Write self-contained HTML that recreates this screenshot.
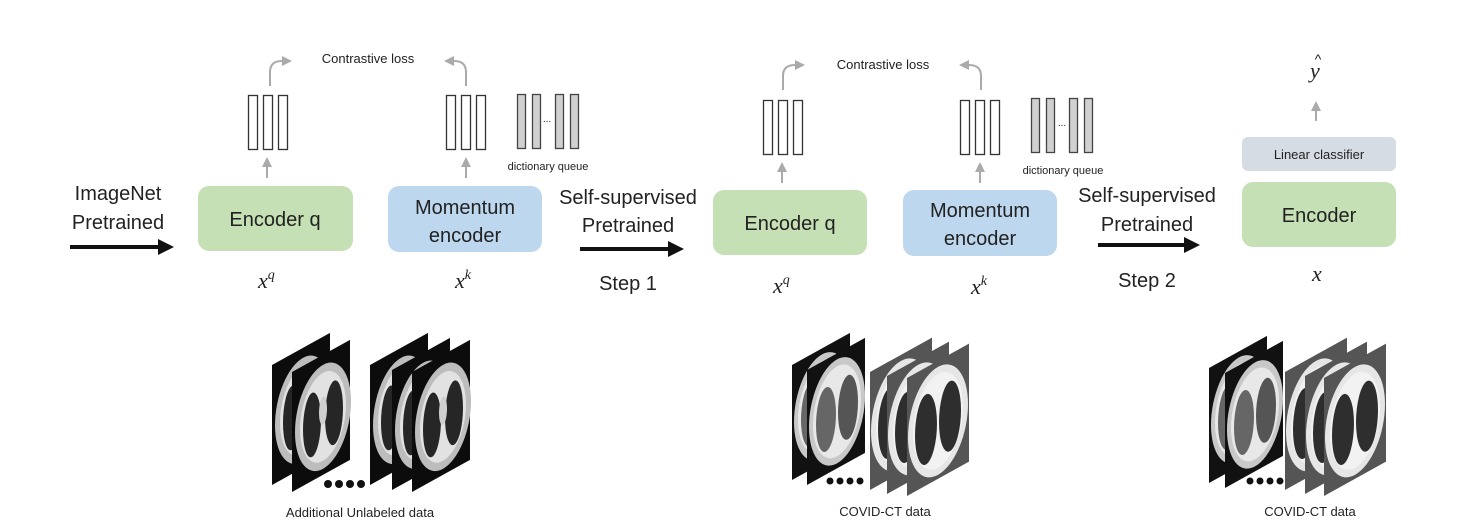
<!DOCTYPE html>
<html><head><meta charset="utf-8"><style>
html,body{margin:0;padding:0;background:#fff;}
svg{display:block;font-family:"Liberation Sans",sans-serif;}
.t{font-family:"Liberation Sans",sans-serif;fill:#222;}
.m{font-family:"Liberation Serif",serif;font-style:italic;fill:#222;}
</style></head><body>
<svg width="1462" height="529" viewBox="0 0 1462 529" xmlns="http://www.w3.org/2000/svg">
<defs>
<marker id="ah" markerWidth="4" markerHeight="4" refX="2" refY="2" orient="auto" markerUnits="strokeWidth"><path d="M0,0 L4,2 L0,4 z" fill="#111"/></marker>
<marker id="gh" markerWidth="6" markerHeight="6" refX="3" refY="3" orient="auto" markerUnits="strokeWidth"><path d="M0,0.5 L5,3 L0,5.5 z" fill="#aaa"/></marker>
<g id="ctA">
<rect x="0" y="0" width="58" height="120" fill="#0c0c0c"/>
<ellipse cx="31" cy="62" rx="28" ry="52" fill="#bdbdbd"/>
<ellipse cx="31" cy="62" rx="23" ry="44" fill="#e2e2e2"/>
<ellipse cx="20" cy="64" rx="9" ry="32" fill="#262626"/>
<ellipse cx="42" cy="64" rx="9" ry="32" fill="#262626"/>
<ellipse cx="31" cy="56" rx="4" ry="14" fill="#cfcfcf"/>
</g>
<g id="ctB">
<rect x="0" y="0" width="58" height="115" fill="#111"/>
<ellipse cx="30" cy="58" rx="28" ry="52" fill="#c8c8c8"/>
<ellipse cx="30" cy="58" rx="24" ry="45" fill="#e8e8e8"/>
<ellipse cx="19" cy="60" rx="10" ry="32" fill="#666"/>
<ellipse cx="41" cy="60" rx="10" ry="32" fill="#555"/>
</g>
<g id="ctC">
<rect x="0" y="0" width="62" height="118" fill="#555"/>
<ellipse cx="31" cy="60" rx="30" ry="54" fill="#e6e6e6"/>
<ellipse cx="31" cy="60" rx="25" ry="47" fill="#f2f2f2"/>
<ellipse cx="19" cy="62" rx="11" ry="35" fill="#2e2e2e"/>
<ellipse cx="43" cy="62" rx="11" ry="35" fill="#2e2e2e"/>
</g>
</defs>

<!-- Left -->
<text class="t" x="118" y="200" font-size="20" text-anchor="middle">ImageNet</text>
<text class="t" x="118" y="229" font-size="20" text-anchor="middle">Pretrained</text>
<line x1="70" y1="247" x2="166" y2="247" stroke="#111" stroke-width="4" marker-end="url(#ah)"/>

<!-- Group 1 -->
<text class="t" x="368" y="63" font-size="13" text-anchor="middle">Contrastive loss</text>
<path d="M270,86 L270,72 Q270,61 282,61 L288,61" fill="none" stroke="#aaa" stroke-width="2" marker-end="url(#gh)"/>
<path d="M466,86 L466,72 Q466,61 454,61 L448,61" fill="none" stroke="#aaa" stroke-width="2" marker-end="url(#gh)"/>
<g fill="#fff" stroke="#333" stroke-width="1.3">
<rect x="248.5" y="95.5" width="9" height="54"/><rect x="263.5" y="95.5" width="9" height="54"/><rect x="278.5" y="95.5" width="9" height="54"/>
<rect x="446.5" y="95.5" width="9" height="54"/><rect x="461.5" y="95.5" width="9" height="54"/><rect x="476.5" y="95.5" width="9" height="54"/>
</g>
<g fill="#d0d0d0" stroke="#444" stroke-width="1.3">
<rect x="517.5" y="94.5" width="8" height="54"/><rect x="532.5" y="94.5" width="8" height="54"/><rect x="555.5" y="94.5" width="8" height="54"/><rect x="570.5" y="94.5" width="8" height="54"/>
</g>
<text class="t" x="547" y="122" font-size="10" text-anchor="middle">...</text>
<text class="t" x="548" y="170" font-size="11" text-anchor="middle">dictionary queue</text>
<line x1="267" y1="178" x2="267" y2="161" stroke="#aaa" stroke-width="2" marker-end="url(#gh)"/>
<line x1="466" y1="178" x2="466" y2="161" stroke="#aaa" stroke-width="2" marker-end="url(#gh)"/>
<rect x="198" y="186" width="155" height="65" rx="11" fill="#c5e0b4"/>
<text class="t" x="275" y="226" font-size="20" text-anchor="middle">Encoder q</text>
<rect x="388" y="186" width="154" height="66" rx="11" fill="#bdd7ee"/>
<text class="t" x="465" y="214" font-size="20" text-anchor="middle">Momentum</text>
<text class="t" x="465" y="242" font-size="20" text-anchor="middle">encoder</text>
<text class="m" x="258" y="288" font-size="22">x<tspan font-size="14" dy="-9">q</tspan></text>
<text class="m" x="455" y="288" font-size="22">x<tspan font-size="14" dy="-9">k</tspan></text>

<text class="t" x="628" y="204" font-size="20" text-anchor="middle">Self-supervised</text>
<text class="t" x="628" y="232" font-size="20" text-anchor="middle">Pretrained</text>
<line x1="580" y1="249" x2="676" y2="249" stroke="#111" stroke-width="4" marker-end="url(#ah)"/>
<text class="t" x="628" y="290" font-size="20" text-anchor="middle">Step 1</text>

<!-- Group 2 -->
<text class="t" x="883" y="69" font-size="13" text-anchor="middle">Contrastive loss</text>
<path d="M783,90 L783,76 Q783,65 795,65 L801,65" fill="none" stroke="#aaa" stroke-width="2" marker-end="url(#gh)"/>
<path d="M981,90 L981,76 Q981,65 969,65 L963,65" fill="none" stroke="#aaa" stroke-width="2" marker-end="url(#gh)"/>
<g fill="#fff" stroke="#333" stroke-width="1.3">
<rect x="763.5" y="100.5" width="9" height="54"/><rect x="778.5" y="100.5" width="9" height="54"/><rect x="793.5" y="100.5" width="9" height="54"/>
<rect x="960.5" y="100.5" width="9" height="54"/><rect x="975.5" y="100.5" width="9" height="54"/><rect x="990.5" y="100.5" width="9" height="54"/>
</g>
<g fill="#d0d0d0" stroke="#444" stroke-width="1.3">
<rect x="1031.5" y="98.5" width="8" height="54"/><rect x="1046.5" y="98.5" width="8" height="54"/><rect x="1069.5" y="98.5" width="8" height="54"/><rect x="1084.5" y="98.5" width="8" height="54"/>
</g>
<text class="t" x="1062" y="126" font-size="10" text-anchor="middle">...</text>
<text class="t" x="1063" y="174" font-size="11" text-anchor="middle">dictionary queue</text>
<line x1="782" y1="183" x2="782" y2="166" stroke="#aaa" stroke-width="2" marker-end="url(#gh)"/>
<line x1="980" y1="183" x2="980" y2="166" stroke="#aaa" stroke-width="2" marker-end="url(#gh)"/>
<rect x="713" y="190" width="154" height="65" rx="11" fill="#c5e0b4"/>
<text class="t" x="790" y="230" font-size="20" text-anchor="middle">Encoder q</text>
<rect x="903" y="190" width="154" height="66" rx="11" fill="#bdd7ee"/>
<text class="t" x="980" y="217" font-size="20" text-anchor="middle">Momentum</text>
<text class="t" x="980" y="245" font-size="20" text-anchor="middle">encoder</text>
<text class="m" x="773" y="293" font-size="22">x<tspan font-size="14" dy="-9">q</tspan></text>
<text class="m" x="971" y="294" font-size="22">x<tspan font-size="14" dy="-9">k</tspan></text>

<text class="t" x="1147" y="202" font-size="20" text-anchor="middle">Self-supervised</text>
<text class="t" x="1147" y="231" font-size="20" text-anchor="middle">Pretrained</text>
<line x1="1098" y1="245" x2="1192" y2="245" stroke="#111" stroke-width="4" marker-end="url(#ah)"/>
<text class="t" x="1147" y="287" font-size="20" text-anchor="middle">Step 2</text>

<!-- Group 3 -->
<text class="m" x="1310" y="78" font-size="22">y</text>
<text class="t" x="1318" y="64" font-size="14" text-anchor="middle">^</text>
<line x1="1316" y1="121" x2="1316" y2="105" stroke="#aaa" stroke-width="2" marker-end="url(#gh)"/>
<rect x="1242" y="137" width="154" height="34" rx="6" fill="#d6dce4"/>
<text class="t" x="1319" y="159" font-size="13" text-anchor="middle">Linear classifier</text>
<rect x="1242" y="182" width="154" height="65" rx="11" fill="#c5e0b4"/>
<text class="t" x="1319" y="222" font-size="20" text-anchor="middle">Encoder</text>
<text class="m" x="1312" y="281" font-size="22">x</text>

<!-- CT group 1 -->
<use href="#ctA" transform="translate(272,365) skewY(-29)"/>
<use href="#ctA" transform="translate(292,372) skewY(-29)"/>
<use href="#ctA" transform="translate(370,365) skewY(-29)"/>
<use href="#ctA" transform="translate(392,370) skewY(-29)"/>
<use href="#ctA" transform="translate(412,372) skewY(-29)"/>
<g fill="#111"><circle cx="328" cy="484" r="4"/><circle cx="339" cy="484" r="4"/><circle cx="350" cy="484" r="4"/><circle cx="361" cy="484" r="4"/></g>
<text class="t" x="360" y="517" font-size="13" text-anchor="middle">Additional Unlabeled data</text>

<!-- CT group 2 -->
<use href="#ctB" transform="translate(792,365) skewY(-29)"/>
<use href="#ctB" transform="translate(807,370) skewY(-29)"/>
<use href="#ctC" transform="translate(870,372) skewY(-29)"/>
<use href="#ctC" transform="translate(887,376) skewY(-29)"/>
<use href="#ctC" transform="translate(907,378) skewY(-29)"/>
<g fill="#111"><circle cx="830" cy="481" r="3.5"/><circle cx="840" cy="481" r="3.5"/><circle cx="850" cy="481" r="3.5"/><circle cx="860" cy="481" r="3.5"/></g>
<text class="t" x="885" y="516" font-size="13" text-anchor="middle">COVID-CT data</text>

<!-- CT group 3 -->
<use href="#ctB" transform="translate(1209,368) skewY(-29)"/>
<use href="#ctB" transform="translate(1225,373) skewY(-29)"/>
<use href="#ctC" transform="translate(1285,372) skewY(-29)"/>
<use href="#ctC" transform="translate(1305,376) skewY(-29)"/>
<use href="#ctC" transform="translate(1324,378) skewY(-29)"/>
<g fill="#111"><circle cx="1250" cy="481" r="3.5"/><circle cx="1260" cy="481" r="3.5"/><circle cx="1270" cy="481" r="3.5"/><circle cx="1280" cy="481" r="3.5"/></g>
<text class="t" x="1310" y="516" font-size="13" text-anchor="middle">COVID-CT data</text>
</svg>
</body></html>
